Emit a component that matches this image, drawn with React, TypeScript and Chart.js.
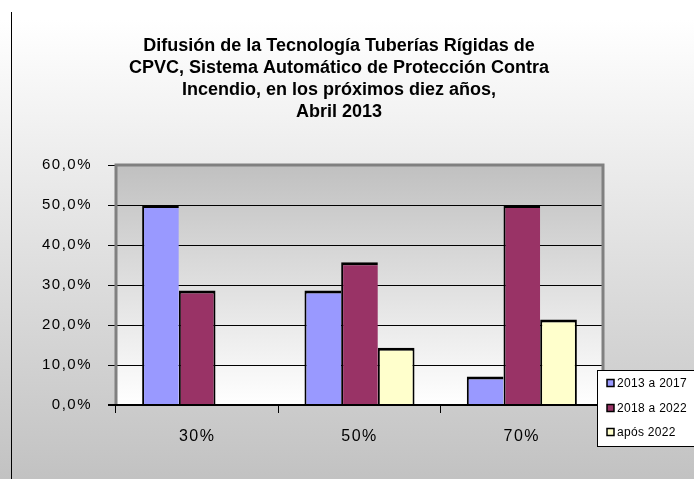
import React, { useEffect, useRef } from 'react';
import { Chart, registerables } from 'chart.js';

Chart.register(...registerables);

const CATEGORIES = ['30%', '50%', '70%'];
const SERIES_LABELS = ['2013 a 2017', '2018 a 2022', 'após 2022'];
const SERIES_COLORS = ['#9999FF', '#993366', '#FFFFCC'];
const VALUES_2013_2017 = [50.0, 28.6, 7.1];
const VALUES_2018_2022 = [28.6, 35.7, 50.0];
const VALUES_AFTER_2022 = [0, 14.3, 21.4];
const Y_MIN = 0;
const Y_MAX = 60;
const Y_STEP = 10;
const TITLE_LINES = [
  'Difusión de la Tecnología Tuberías Rígidas de',
  'CPVC, Sistema Automático de Protección Contra',
  'Incendio, en los próximos diez años,',
  'Abril 2013',
];

const W = 694;
const H = 479;
const FONT = '"Liberation Sans", Arial, sans-serif';

const decorPlugin = {
  id: 'decor',
  beforeDraw(chart: any) {
    const { ctx, chartArea } = chart;
    ctx.save();
    const g = ctx.createLinearGradient(0, 20, 0, H);
    g.addColorStop(0, '#FFFFFF');
    g.addColorStop(1, '#C2C2C2');
    ctx.fillStyle = g;
    ctx.fillRect(0, 0, W, H);
    // left border line
    ctx.strokeStyle = '#000000';
    ctx.lineWidth = 1;
    ctx.beginPath();
    ctx.moveTo(11.5, 12);
    ctx.lineTo(11.5, H);
    ctx.stroke();
    // plot area gradient
    const pg = ctx.createLinearGradient(0, chartArea.top, 0, chartArea.bottom);
    pg.addColorStop(0, '#C0C0C0');
    pg.addColorStop(1, '#FFFFFF');
    ctx.fillStyle = pg;
    ctx.fillRect(chartArea.left, chartArea.top, chartArea.right - chartArea.left, chartArea.bottom - chartArea.top);
    // title
    ctx.fillStyle = '#000000';
    ctx.font = `bold 18px ${FONT}`;
    ctx.textAlign = 'center';
    ctx.textBaseline = 'alphabetic';
    const baselines = [50.5, 72.8, 95, 117.3];
    TITLE_LINES.forEach((t, i) => ctx.fillText(t, 339, baselines[i]));
    ctx.restore();
    ctx.letterSpacing = '1.5px';
  },
  afterDatasetsDraw(chart: any) {
    const { ctx, chartArea } = chart;
    ctx.save();
    ctx.strokeStyle = '#808080';
    ctx.lineWidth = 3;
    ctx.beginPath();
    ctx.moveTo(chartArea.left, chartArea.bottom);
    ctx.lineTo(chartArea.left, chartArea.top);
    ctx.lineTo(chartArea.right, chartArea.top);
    ctx.lineTo(chartArea.right, chartArea.bottom);
    ctx.stroke();
    ctx.strokeStyle = '#000000';
    ctx.lineWidth = 2;
    ctx.beginPath();
    ctx.moveTo(chartArea.left - 8, chartArea.bottom);
    ctx.lineTo(chartArea.right, chartArea.bottom);
    ctx.stroke();
    ctx.restore();
  },
  afterDraw(chart: any) {
    const { ctx } = chart;
    ctx.save();
    ctx.letterSpacing = '0.3px';
    ctx.fillStyle = '#FFFFFF';
    ctx.fillRect(597.5, 370.5, 130, 76);
    ctx.strokeStyle = '#000000';
    ctx.lineWidth = 1;
    ctx.strokeRect(597.5, 370.5, 130, 76);
    const ys = [383, 408, 432];
    ctx.font = `12px ${FONT}`;
    ctx.textAlign = 'left';
    ctx.textBaseline = 'middle';
    chart.data.datasets.forEach((ds: any, i: number) => {
      ctx.fillStyle = ds.backgroundColor;
      ctx.fillRect(607, ys[i] - 3.5, 7, 7);
      ctx.strokeStyle = '#000000';
      ctx.lineWidth = 1.5;
      ctx.strokeRect(607, ys[i] - 3.5, 7, 7);
      ctx.fillStyle = '#000000';
      ctx.fillText(ds.label, 617, ys[i] + 1);
    });
    ctx.restore();
  },
};

export default function App() {
  const ref = useRef<HTMLCanvasElement>(null);
  useEffect(() => {
    if (!ref.current) return;
    const seriesValues = [VALUES_2013_2017, VALUES_2018_2022, VALUES_AFTER_2022];
    const chart = new Chart(ref.current, {
      type: 'bar',
      data: {
        labels: CATEGORIES,
        datasets: SERIES_LABELS.map((label, i) => ({
          label,
          data: seriesValues[i],
          backgroundColor: SERIES_COLORS[i],
          borderColor: '#000000',
          borderWidth: (c: any) => {
            const ds = c.chart.data.datasets;
            const di = c.datasetIndex;
            const idx = c.dataIndex;
            let right = 2;
            if (di < ds.length - 1 && ds[di + 1].data[idx] > 0) right = 0;
            return { top: 3, left: 2, right, bottom: 0 };
          },
          borderSkipped: 'start',
          categoryPercentage: 0.678,
          barPercentage: 1,
        })),
      },
      options: {
        animation: false,
        responsive: false,
        devicePixelRatio: 1,
        layout: { padding: { left: 0, top: 165, right: W - 603, bottom: 0 } },
        plugins: {
          legend: { display: false },
          title: { display: false },
          tooltip: { enabled: false },
        },
        scales: {
          x: {
            afterFit: (s: any) => { s.height = H - 405; },
            grid: {
              display: true,
              drawOnChartArea: false,
              drawTicks: true,
              tickLength: 8,
              color: '#000000',
              offset: true,
            },
            border: { display: true, color: '#000000', width: 2 },
            ticks: {
              color: '#000000',
              font: { family: FONT, size: 16 },
              padding: 14,
            },
          },
          y: {
            min: Y_MIN,
            max: Y_MAX,
            afterFit: (s: any) => { s.width = 116; },
            grid: {
              color: '#000000',
              lineWidth: 1,
              drawTicks: true,
              tickLength: 8,
            },
            border: { display: false },
            ticks: {
              stepSize: Y_STEP,
              color: '#000000',
              font: { family: FONT, size: 15 },
              padding: 16,
              callback: (v: any) => Number(v).toFixed(1).replace('.', ',') + '%',
            },
          },
        },
      },
      plugins: [decorPlugin],
    });
    return () => chart.destroy();
  }, []);
  return (
    <div style={{ position: 'absolute', left: 0, top: 0, width: W, height: H }}>
      <canvas ref={ref} width={W} height={H} />
    </div>
  );
}
